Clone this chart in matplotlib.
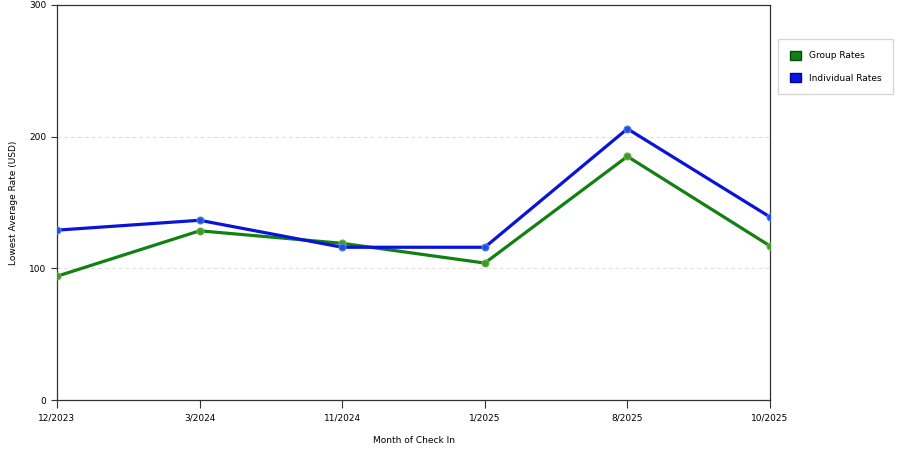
import matplotlib
matplotlib.use("Agg")
import matplotlib.pyplot as plt
from matplotlib.patches import Patch

months = ["12/2023", "3/2024", "11/2024", "1/2025", "8/2025", "10/2025"]
group_rates = [94, 128.5, 119, 104, 185, 117]
individual_rates = [129, 136.5, 116, 116, 206, 139]

fig = plt.figure(figsize=(9, 4.5), dpi=100)
ax = fig.add_axes([57/900, 50/450, (770-57)/900, (400-5)/450])

x = list(range(len(months)))
ax.plot(x, group_rates, color="#128012", lw=2.3, marker="o", ms=5,
        mfc="#3a9a2a", mec="#6ab04a", mew=0.8, zorder=3)
ax.plot(x, individual_rates, color="#0a14d8", lw=2.3, marker="o", ms=5,
        mfc="#2050e0", mec="#5080f0", mew=0.8, zorder=4)

ax.set_xlim(0, len(months) - 1)
ax.set_ylim(0, 300)
ax.set_xticks(x)
ax.set_xticklabels(months, fontsize=6.5)
ax.set_yticks([0, 100, 200, 300])
ax.tick_params(axis="y", labelsize=6.5, length=4, color="#333333")
ax.tick_params(axis="x", length=6, color="#333333")
ax.yaxis.grid(True, linestyle=(0, (4, 3)), color="#dddddd", lw=0.7)
ax.set_axisbelow(True)
for s in ax.spines.values():
    s.set_color("#333333")
    s.set_linewidth(0.9)
ax.set_xlabel("Month of Check In", fontsize=6.5, labelpad=10)
ax.set_ylabel("Lowest Average Rate (USD)", fontsize=6.5, labelpad=8)

handles = [Patch(facecolor="#128012", edgecolor="#0a4a0a", label="Group Rates"),
           Patch(facecolor="#0a14e8", edgecolor="#000a80", label="Individual Rates")]
fig.legend(handles=handles, loc="upper left", bbox_to_anchor=(778/900, 1 - 39/450),
           borderaxespad=0, fontsize=6.5, frameon=True, fancybox=False,
           edgecolor="#cccccc", handlelength=1.2, handleheight=1.2,
           borderpad=1.3, labelspacing=1.4, handletextpad=0.9)

fig.savefig("out.png", dpi=100)
